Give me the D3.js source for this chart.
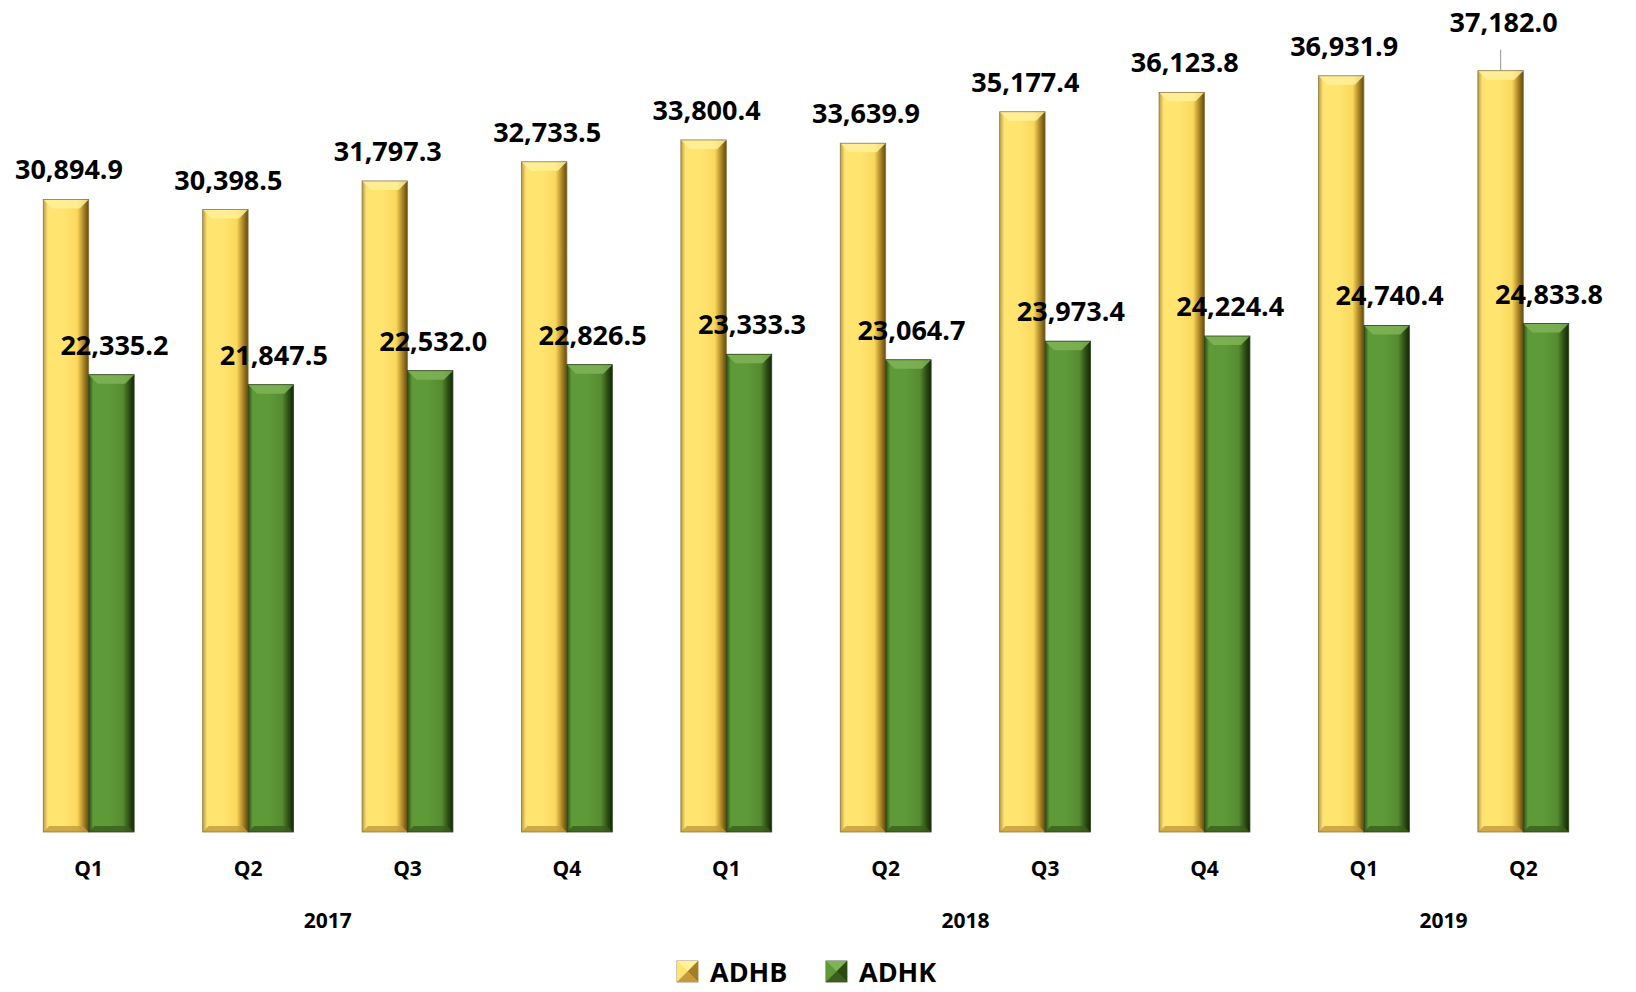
<!DOCTYPE html>
<html>
<head>
<meta charset="utf-8">
<script src="https://cdn.jsdelivr.net/npm/d3@7"></script>
<style>
  html, body { margin: 0; padding: 0; background: #fff; }
  svg { display: block; font-family: "Open Sans", Lato, sans-serif; }
</style>
</head>
<body>
<svg class="chart-svg"></svg>
<script>
const width = 1636;
const height = 992;

// data
const quarters = ["Q1", "Q2", "Q3", "Q4", "Q1", "Q2", "Q3", "Q4", "Q1", "Q2"];
const years = ["2017", "2017", "2017", "2017", "2018", "2018", "2018", "2018", "2019", "2019"];
const yearLabels = ["2017", "2018", "2019"];
const seriesNames = ["ADHB", "ADHK"];
const adhb = [30894.9, 30398.5, 31797.3, 32733.5, 33800.4, 33639.9, 35177.4, 36123.8, 36931.9, 37182.0];
const adhk = [22335.2, 21847.5, 22532.0, 22826.5, 23333.3, 23064.7, 23973.4, 24224.4, 24740.4, 24833.8];

const colors = {
  ADHB: { edgeL: "#b89a45", light: "#ffe470", mid: "#fbd85c", edgeR: "#a47e22", dark: "#5e4a12", top: "#fff09a", bottom: "#c69a3a", stroke: "#8c7a45" },
  ADHK: { edgeL: "#2c4a12", light: "#5e9a38", mid: "#558c31", edgeR: "#2b4b12", dark: "#14260a", top: "#7fb456", bottom: "#3a5e1c", stroke: "#2e4418" }
};

const svg = d3.select(".chart-svg").attr("width", width).attr("height", height);

const x0 = d3.scaleBand()
  .domain(d3.range(quarters.length))
  .range([9, 1603])
  .paddingInner(0.43)
  .paddingOuter(0.215);

const x1 = d3.scaleBand()
  .domain(seriesNames)
  .range([0, x0.bandwidth()]);

const y = d3.scaleLinear()
  .domain([0, 40000])
  .range([832, 13]);

// gradients for the bevelled bars
const defs = svg.append("defs");
seriesNames.forEach(name => {
  const c = colors[name];
  const g = defs.append("linearGradient")
    .attr("id", "grad-" + name)
    .attr("x1", "0").attr("x2", "1").attr("y1", "0").attr("y2", "0");
  [[0, c.edgeL], [0.1, c.light], [0.45, c.light], [0.75, c.mid], [0.9, c.edgeR], [1, c.dark]]
    .forEach(([o, col]) => g.append("stop").attr("offset", o).attr("stop-color", col));
});

const rows = quarters.map((q, i) => ({ i, q, values: [adhb[i], adhk[i]] }));

const groups = svg.selectAll(".group")
  .data(rows)
  .enter()
  .append("g")
  .attr("class", "group")
  .attr("transform", d => `translate(${x0(d.i)},0)`);

const bars = groups.selectAll(".bar")
  .data(d => seriesNames.map((name, k) => ({ name, value: d.values[k], i: d.i })))
  .enter()
  .append("g")
  .attr("class", "bar");

bars.each(function (d) {
  const g = d3.select(this);
  const c = colors[d.name];
  const bx = x1(d.name);
  const bw = x1.bandwidth();
  const top = y(d.value);
  const bot = y(0);
  const b = 9;

  g.append("rect")
    .attr("x", bx).attr("y", top)
    .attr("width", bw).attr("height", bot - top)
    .attr("fill", `url(#grad-${d.name})`);

  // top bevel
  g.append("path")
    .attr("d", `M${bx},${top}L${bx + bw},${top}L${bx + bw - b},${top + b}L${bx + b},${top + b}Z`)
    .attr("fill", c.top).attr("opacity", 0.85);
  // bottom bevel
  g.append("path")
    .attr("d", `M${bx},${bot}L${bx + bw},${bot}L${bx + bw - 6},${bot - 6}L${bx + 6},${bot - 6}Z`)
    .attr("fill", c.bottom).attr("opacity", 0.8);

  g.append("rect")
    .attr("x", bx).attr("y", top)
    .attr("width", bw).attr("height", bot - top)
    .attr("fill", "none")
    .attr("stroke", c.stroke)
    .attr("stroke-width", 0.8);
});

// data labels
const last = quarters.length - 1;
bars.append("text")
  .attr("x", d => x1(d.name) + x1.bandwidth() / 2 + 3)
  .attr("y", d => y(d.value) - (d.name === "ADHB" && d.i === last ? 39 : 20))
  .attr("text-anchor", "middle")
  .attr("font-size", 27)
  .attr("font-weight", 700)
  .attr("fill", "#000")
  .text(d => d3.format(",.1f")(d.value));

// leader line for the moved label
svg.append("line")
  .attr("x1", x0(last) + x1("ADHB") + x1.bandwidth() / 2)
  .attr("x2", x0(last) + x1("ADHB") + x1.bandwidth() / 2)
  .attr("y1", y(adhb[last]) - 21)
  .attr("y2", y(adhb[last]))
  .attr("stroke", "#a6a6a6")
  .attr("stroke-width", 1.2);

// quarter labels
svg.selectAll(".qlabel")
  .data(rows)
  .enter()
  .append("text")
  .attr("class", "qlabel")
  .attr("x", d => x0(d.i) + x0.bandwidth() / 2)
  .attr("y", 876)
  .attr("text-anchor", "middle")
  .attr("font-size", 21)
  .attr("font-weight", 700)
  .text(d => d.q);

// year labels centred under their quarters
svg.selectAll(".ylabel")
  .data(yearLabels)
  .enter()
  .append("text")
  .attr("class", "ylabel")
  .attr("x", yr => {
    const idx = d3.range(years.length).filter(i => years[i] === yr);
    const a = x0(idx[0]) + x0.bandwidth() / 2;
    const z = x0(idx[idx.length - 1]) + x0.bandwidth() / 2;
    return (a + z) / 2;
  })
  .attr("y", 928)
  .attr("text-anchor", "middle")
  .attr("font-size", 21)
  .attr("font-weight", 700)
  .text(yr => yr);

// legend
const legend = svg.append("g").attr("class", "legend");
const legendX = [677, 826];
seriesNames.forEach((name, k) => {
  const c = colors[name];
  const lg = legend.append("g").attr("transform", `translate(${legendX[k]},961)`);
  const s = 21;
  lg.append("rect").attr("width", s).attr("height", s).attr("fill", c.mid).attr("stroke", c.stroke).attr("stroke-width", 0.8);
  lg.append("path").attr("d", `M0,0L${s},0L${s / 2},${s / 2}Z`).attr("fill", c.top);
  lg.append("path").attr("d", `M0,0L${s / 2},${s / 2}L0,${s}Z`).attr("fill", c.light);
  lg.append("path").attr("d", `M${s},0L${s / 2},${s / 2}L${s},${s}Z`).attr("fill", c.edgeR);
  lg.append("path").attr("d", `M0,${s}L${s / 2},${s / 2}L${s},${s}Z`).attr("fill", c.bottom);
  lg.append("text")
    .attr("x", s + 12)
    .attr("y", s)
    .attr("font-size", 27)
    .attr("font-weight", 700)
    .text(name);
});
</script>
</body>
</html>
